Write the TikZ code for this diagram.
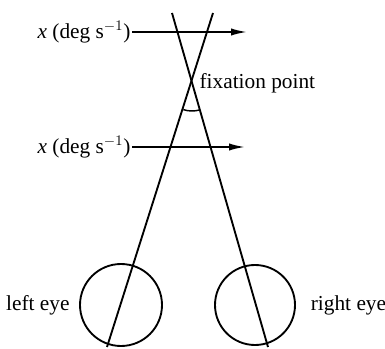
\documentclass[tikz,border=0pt]{standalone}
\usepackage{fontspec}
\setmainfont{Liberation Serif}
\usetikzlibrary{arrows.meta, positioning, calc}

\begin{document}
\begin{tikzpicture}[
        x=0.75pt, y=0.75pt,
        font=\fontsize{16}{19}\selectfont,
        ray/.style = {draw, line width=1.4pt},
        eye/.style = {circle, draw, line width=1.4pt, inner sep=0pt},
        motion/.style = {draw, line width=1.4pt, -{Latex[length=12pt, width=5.5pt]}},
        label_text/.style = {inner sep=1pt}
    ]
    \useasboundingbox (0,0) rectangle (385,349);

    % Eyes
    \node [eye, minimum size=82*0.75pt] (left_eye) at (121,44) {};
    \node [eye, minimum size=80*0.75pt] (right_eye) at (255,44) {};
    \node [label_text, left=6pt of left_eye] (left_lbl) {left eye};
    \node [label_text, right=10pt of right_eye] (right_lbl) {right eye};

    % Lines of sight
    \coordinate (left_top) at (213,336);
    \coordinate (left_bot) at (107,2);
    \coordinate (right_top) at (172,336);
    \coordinate (right_bot) at (268,2);
    \coordinate (fix) at (192,266);
    \path [ray] (left_bot) -- (left_top);
    \path [ray] (right_bot) -- (right_top);

    % Fixation point and angle
    \node [label_text, anchor=west] (fix_lbl) at ($(fix)+(6,0)$) {fixation point};
    \draw [line width=1.1pt] ($(fix)+(252:28)$) arc (252:287:28);

    % Motion arrows
    \node [label_text, anchor=east] (top_lbl) at (132,317) {\textit{x} (deg s$^{-1}$)};
    \coordinate (top_tip) at (247,317);
    \node [label_text, anchor=east] (bot_lbl) at (132,202) {\textit{x} (deg s$^{-1}$)};
    \coordinate (bot_tip) at (245,202);
    \path [motion] (top_lbl) -- (top_tip);
    \path [motion] (bot_lbl) -- (bot_tip);

\end{tikzpicture}
\end{document}
